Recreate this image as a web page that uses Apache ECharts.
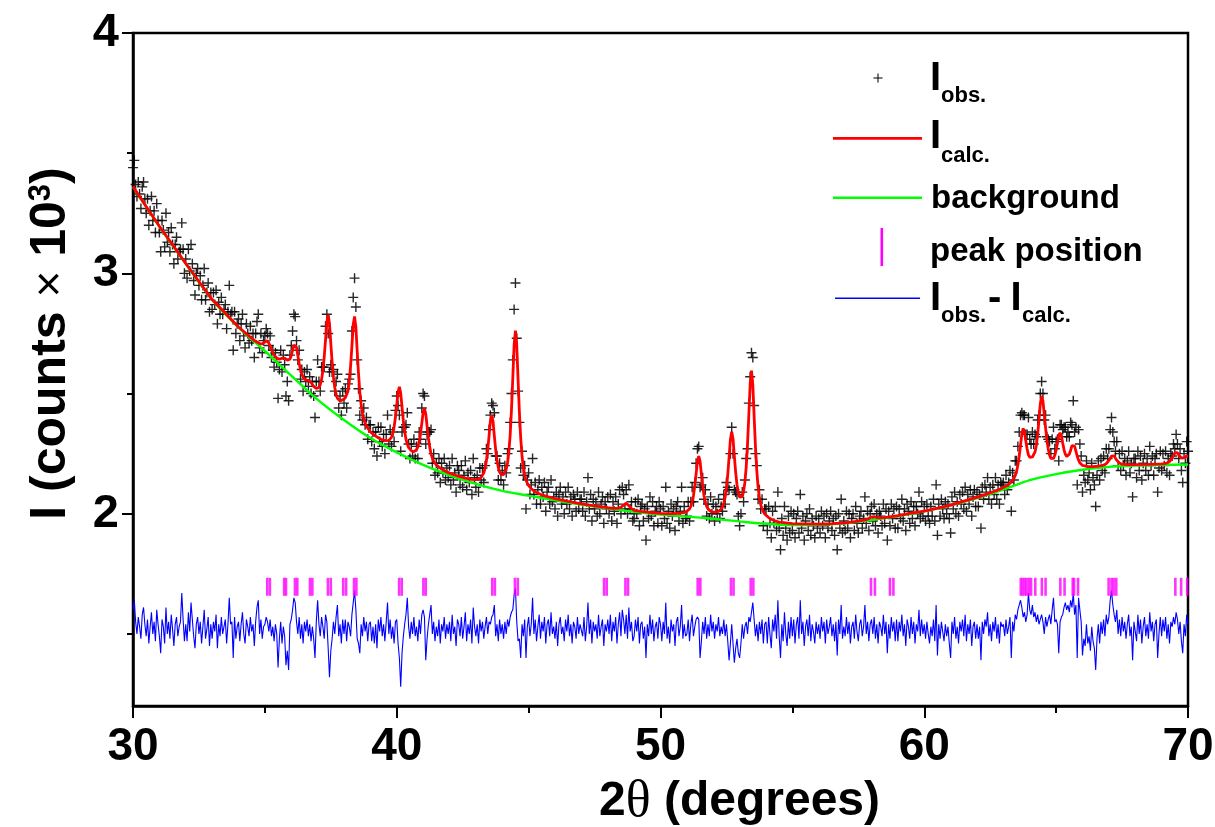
<!DOCTYPE html>
<html><head><meta charset="utf-8">
<script src="https://cdn.jsdelivr.net/npm/echarts@6/dist/echarts.min.js"></script>
<style>html,body{margin:0;padding:0;background:#fff}#c{width:1215px;height:827px}</style>
</head><body><div id="c"></div>
<script>
// ---------- data ----------
const twoThetaStart = 30;
const twoThetaStep = 0.05;

// observed intensity (counts x 10^3), one value per 0.05 deg from 30.00 to 70.00
const observedIntensity = [
3.44,3.47,3.37,3.32,3.38,3.33,3.27,3.36,3.38,3.31,3.25,3.31,3.20,3.26,3.32,3.22,3.26,3.17,3.29,3.22,
3.17,3.09,3.22,3.18,3.11,3.25,3.13,3.17,3.09,3.19,3.12,3.04,3.12,3.15,3.06,3.09,3.10,3.21,3.10,3.00,
3.06,2.98,3.10,3.01,3.12,3.04,2.97,2.91,3.00,3.02,2.95,2.99,2.89,2.95,3.02,2.89,2.92,2.96,2.84,2.92,
2.85,2.92,2.87,2.93,2.79,2.88,2.83,2.90,2.83,2.85,2.87,2.77,2.84,2.95,2.83,2.84,2.68,2.84,2.75,2.79,
2.81,2.72,2.79,2.83,2.74,2.69,2.79,2.75,2.71,2.78,2.72,2.75,2.65,2.75,2.80,2.83,2.69,2.75,2.67,2.72,
2.74,2.77,2.75,2.70,2.74,2.65,2.68,2.61,2.67,2.63,2.48,2.60,2.68,2.59,2.66,2.62,2.49,2.55,2.47,2.66,
2.70,2.76,2.83,2.82,2.72,2.64,2.68,2.56,2.60,2.51,2.59,2.55,2.60,2.53,2.57,2.50,2.55,2.49,2.40,2.55,
2.64,2.55,2.51,2.61,2.61,2.61,2.78,2.83,2.75,2.59,2.62,2.59,2.60,2.51,2.55,2.58,2.44,2.49,2.41,2.51,
2.46,2.52,2.44,2.54,2.56,2.58,2.76,2.90,2.98,2.86,2.64,2.52,2.41,2.47,2.39,2.44,2.37,2.40,2.31,2.37,
2.37,2.30,2.34,2.27,2.34,2.24,2.36,2.30,2.36,2.28,2.33,2.25,2.33,2.41,2.29,2.35,2.28,2.34,2.30,2.43,
2.49,2.45,2.41,2.26,2.34,2.36,2.36,2.37,2.42,2.29,2.23,2.29,2.24,2.31,2.23,2.28,2.23,2.34,2.31,2.44,
2.50,2.49,2.29,2.33,2.34,2.34,2.35,2.21,2.25,2.16,2.21,2.17,2.23,2.13,2.21,2.17,2.23,2.14,2.19,2.15,
2.20,2.12,2.23,2.14,2.17,2.09,2.20,2.18,2.12,2.20,2.11,2.16,2.22,2.10,2.17,2.13,2.18,2.08,2.23,2.15,
2.11,2.16,2.09,2.19,2.14,2.19,2.13,2.20,2.27,2.25,2.35,2.41,2.46,2.45,2.42,2.24,2.24,2.14,2.21,2.14,
2.18,2.12,2.20,2.17,2.25,2.27,2.38,2.50,2.64,2.85,2.96,2.73,2.51,2.38,2.19,2.26,2.16,2.20,2.02,2.14,
2.17,2.08,2.12,2.23,2.08,2.13,2.04,2.10,2.14,2.04,2.11,2.07,2.13,2.01,2.09,2.11,2.04,2.14,2.05,2.07,
2.02,2.09,1.99,2.08,2.11,2.04,2.07,2.00,2.09,2.04,2.11,2.02,2.07,1.99,2.08,2.06,2.01,2.09,2.02,2.06,
2.06,2.01,2.09,1.99,2.05,2.15,2.02,2.08,1.97,2.06,2.02,2.05,1.99,2.09,2.00,2.04,2.07,1.96,2.05,2.02,
2.07,2.00,2.08,1.97,2.05,2.01,2.07,1.96,2.04,2.10,2.00,2.11,2.08,2.02,2.10,2.00,2.12,2.02,2.05,1.97,
1.98,2.05,2.00,2.06,1.95,2.03,2.04,1.97,2.02,1.89,2.03,1.98,2.07,1.99,2.05,1.95,2.01,2.03,1.96,2.05,
2.02,1.95,2.03,1.98,2.11,1.96,2.01,1.94,2.04,1.99,2.02,1.93,2.03,2.05,1.97,2.01,2.11,1.96,2.03,1.98,
1.99,2.05,1.97,2.05,2.11,2.05,2.13,2.21,2.27,2.28,2.11,2.12,2.15,2.06,2.10,1.99,2.04,1.98,2.07,2.00,
2.04,1.97,2.03,2.00,2.06,1.98,2.03,2.01,2.08,2.04,2.13,2.11,2.10,2.25,2.36,2.25,2.10,2.09,2.08,1.99,
1.95,2.00,2.09,2.05,2.14,2.23,2.27,2.46,2.57,2.67,2.65,2.45,2.25,2.20,2.06,2.10,2.02,2.06,1.95,2.02,
2.02,1.93,2.03,1.96,1.90,2.01,1.96,2.03,1.93,2.09,1.94,1.85,1.98,1.91,2.03,1.94,1.89,1.99,1.92,2.01,
1.93,2.00,1.90,1.98,2.01,1.92,2.08,1.94,1.99,1.89,1.97,2.00,1.93,2.02,1.91,1.98,1.95,1.90,1.99,1.94,
1.98,1.92,2.01,1.95,1.99,1.90,2.00,1.94,1.97,2.01,1.93,1.98,1.91,1.99,1.85,2.00,1.94,2.06,1.92,1.97,
1.93,2.01,1.94,2.00,1.90,1.98,2.00,1.93,2.03,1.96,1.92,1.99,2.01,1.94,1.98,2.07,1.96,2.01,1.93,2.00,
2.03,1.97,2.04,1.95,2.00,1.92,2.01,1.99,1.95,2.04,1.96,2.02,1.89,2.01,1.95,2.04,1.98,2.02,1.94,2.03,
1.94,2.02,1.98,2.06,1.97,2.02,1.93,2.04,2.01,1.96,2.05,1.98,2.03,1.95,2.03,2.00,2.09,1.98,2.05,1.99,
2.03,1.97,2.04,1.99,1.96,2.03,1.99,2.06,1.97,2.12,1.91,2.04,1.99,2.06,2.02,1.98,2.05,2.00,2.04,1.98,
1.92,2.07,2.02,2.09,2.00,2.05,1.99,2.08,2.04,2.09,2.02,2.11,2.01,2.08,2.04,2.10,1.99,2.07,2.10,2.03,
2.09,2.03,2.08,1.94,2.11,2.06,2.12,2.09,2.15,2.06,2.11,2.04,2.12,2.08,2.15,2.06,2.12,2.04,2.13,2.12,
2.13,2.08,2.16,2.10,2.13,2.18,2.01,2.17,2.14,2.22,2.22,2.28,2.34,2.41,2.42,2.41,2.41,2.33,2.33,2.40,
2.31,2.29,2.34,2.29,2.33,2.32,2.39,2.41,2.50,2.55,2.50,2.39,2.41,2.32,2.31,2.30,2.25,2.31,2.36,2.27,
2.30,2.31,2.22,2.37,2.37,2.35,2.36,2.36,2.32,2.34,2.32,2.38,2.37,2.47,2.34,2.36,2.12,2.35,2.29,2.24,
2.09,2.16,2.13,2.22,2.14,2.17,2.10,2.21,2.15,2.12,2.03,2.16,2.22,2.14,2.23,2.18,2.24,2.17,2.27,2.23,
2.27,2.35,2.40,2.34,2.30,2.26,2.30,2.20,2.25,2.18,2.26,2.20,2.23,2.16,2.22,2.26,2.17,2.21,2.07,2.23,
2.23,2.15,2.26,2.18,2.24,2.14,2.21,2.25,2.18,2.23,2.16,2.28,2.20,2.24,2.16,2.23,2.25,2.09,2.19,2.26,
2.18,2.25,2.20,2.26,2.17,2.23,2.16,2.25,2.24,2.29,2.27,2.33,2.29,2.23,2.27,2.18,2.13,2.25,2.21,2.30,
2.26
];

// difference curve Iobs - Icalc (drawn with its offset), same 0.05 deg grid
const differenceCurve = [
1.60,1.64,1.55,1.50,1.57,1.53,1.48,1.58,1.61,1.54,1.49,1.56,1.46,1.53,1.59,1.50,1.55,1.47,1.60,1.54,
1.49,1.42,1.56,1.53,1.46,1.61,1.50,1.55,1.48,1.58,1.52,1.45,1.54,1.57,1.49,1.53,1.55,1.67,1.56,1.47,
1.54,1.47,1.59,1.51,1.63,1.56,1.49,1.44,1.54,1.57,1.50,1.55,1.46,1.53,1.60,1.48,1.52,1.57,1.45,1.54,
1.48,1.55,1.51,1.58,1.44,1.54,1.49,1.57,1.50,1.53,1.56,1.46,1.54,1.65,1.54,1.55,1.40,1.57,1.48,1.53,
1.55,1.47,1.54,1.59,1.50,1.46,1.56,1.53,1.49,1.57,1.51,1.54,1.45,1.55,1.61,1.64,1.50,1.56,1.48,1.53,
1.54,1.57,1.55,1.51,1.56,1.49,1.53,1.47,1.54,1.50,1.36,1.48,1.55,1.46,1.53,1.49,1.37,1.43,1.35,1.54,
1.56,1.60,1.65,1.63,1.55,1.50,1.57,1.48,1.54,1.46,1.55,1.51,1.56,1.49,1.54,1.47,1.53,1.48,1.40,1.55,
1.64,1.54,1.49,1.57,1.53,1.48,1.58,1.55,1.44,1.32,1.43,1.48,1.55,1.50,1.57,1.62,1.49,1.54,1.46,1.56,
1.50,1.56,1.47,1.55,1.53,1.49,1.58,1.63,1.68,1.60,1.48,1.46,1.42,1.54,1.49,1.57,1.51,1.55,1.47,1.54,
1.55,1.47,1.53,1.46,1.54,1.44,1.56,1.51,1.57,1.49,1.54,1.47,1.55,1.63,1.50,1.56,1.48,1.53,1.46,1.55,
1.56,1.46,1.40,1.28,1.42,1.49,1.54,1.58,1.65,1.53,1.48,1.55,1.50,1.57,1.49,1.53,1.47,1.56,1.50,1.58,
1.60,1.57,1.39,1.48,1.54,1.58,1.62,1.50,1.55,1.47,1.53,1.49,1.56,1.46,1.54,1.51,1.57,1.48,1.54,1.50,
1.55,1.47,1.58,1.50,1.53,1.45,1.56,1.54,1.49,1.57,1.48,1.53,1.59,1.47,1.54,1.50,1.56,1.46,1.61,1.53,
1.49,1.54,1.46,1.56,1.51,1.55,1.48,1.53,1.57,1.50,1.55,1.54,1.57,1.58,1.62,1.49,1.54,1.47,1.56,1.50,
1.54,1.48,1.55,1.50,1.56,1.53,1.57,1.59,1.60,1.66,1.69,1.55,1.47,1.48,1.40,1.54,1.49,1.56,1.40,1.53,
1.57,1.49,1.54,1.65,1.50,1.56,1.47,1.53,1.58,1.48,1.55,1.51,1.57,1.46,1.54,1.56,1.49,1.59,1.50,1.53,
1.48,1.55,1.45,1.54,1.57,1.50,1.53,1.47,1.56,1.51,1.58,1.49,1.54,1.46,1.55,1.53,1.48,1.57,1.50,1.54,
1.54,1.49,1.57,1.47,1.53,1.63,1.50,1.56,1.46,1.55,1.51,1.54,1.48,1.58,1.49,1.53,1.56,1.45,1.54,1.51,
1.56,1.50,1.58,1.47,1.55,1.51,1.57,1.46,1.54,1.59,1.49,1.60,1.56,1.50,1.58,1.48,1.61,1.51,1.55,1.47,
1.49,1.56,1.51,1.57,1.46,1.54,1.55,1.48,1.53,1.40,1.54,1.49,1.58,1.50,1.56,1.47,1.53,1.55,1.48,1.57,
1.54,1.47,1.55,1.50,1.63,1.48,1.53,1.46,1.56,1.51,1.54,1.45,1.55,1.57,1.49,1.53,1.62,1.48,1.54,1.49,
1.50,1.56,1.47,1.54,1.58,1.49,1.53,1.56,1.57,1.56,1.40,1.47,1.55,1.50,1.57,1.48,1.54,1.49,1.58,1.51,
1.55,1.48,1.54,1.51,1.57,1.49,1.53,1.50,1.56,1.49,1.54,1.47,1.39,1.46,1.54,1.46,1.38,1.44,1.48,1.42,
1.40,1.46,1.54,1.48,1.53,1.55,1.50,1.57,1.55,1.59,1.63,1.56,1.49,1.54,1.47,1.55,1.50,1.56,1.46,1.54,
1.55,1.46,1.57,1.50,1.44,1.56,1.51,1.58,1.48,1.64,1.49,1.40,1.54,1.47,1.59,1.50,1.45,1.55,1.48,1.57,
1.49,1.56,1.46,1.54,1.57,1.48,1.64,1.50,1.55,1.45,1.53,1.56,1.49,1.58,1.47,1.54,1.51,1.46,1.55,1.50,
1.54,1.48,1.57,1.51,1.55,1.46,1.56,1.50,1.53,1.57,1.49,1.54,1.47,1.55,1.41,1.56,1.50,1.62,1.48,1.53,
1.49,1.57,1.50,1.55,1.46,1.53,1.55,1.48,1.58,1.51,1.47,1.54,1.56,1.49,1.53,1.62,1.50,1.55,1.47,1.54,
1.56,1.50,1.57,1.48,1.54,1.46,1.55,1.53,1.49,1.58,1.50,1.55,1.42,1.54,1.48,1.57,1.51,1.55,1.47,1.56,
1.47,1.55,1.51,1.58,1.49,1.54,1.45,1.56,1.53,1.48,1.57,1.50,1.55,1.46,1.54,1.51,1.60,1.49,1.56,1.50,
1.54,1.48,1.55,1.50,1.46,1.53,1.49,1.56,1.47,1.62,1.41,1.54,1.48,1.55,1.51,1.47,1.54,1.49,1.53,1.46,
1.40,1.55,1.50,1.57,1.48,1.53,1.46,1.55,1.51,1.56,1.49,1.58,1.47,1.54,1.50,1.56,1.45,1.53,1.55,1.48,
1.54,1.48,1.53,1.39,1.55,1.50,1.56,1.53,1.59,1.49,1.54,1.47,1.55,1.51,1.57,1.48,1.54,1.46,1.55,1.53,
1.54,1.49,1.56,1.50,1.53,1.57,1.40,1.55,1.51,1.58,1.56,1.60,1.62,1.64,1.61,1.57,1.59,1.55,1.58,1.67,
1.60,1.58,1.62,1.57,1.59,1.55,1.58,1.54,1.56,1.58,1.55,1.50,1.57,1.53,1.56,1.58,1.54,1.60,1.65,1.55,
1.56,1.54,1.42,1.55,1.57,1.58,1.61,1.63,1.60,1.62,1.59,1.64,1.61,1.67,1.58,1.62,1.40,1.65,1.60,1.55,
1.41,1.48,1.45,1.54,1.46,1.49,1.43,1.53,1.47,1.44,1.35,1.48,1.54,1.46,1.55,1.50,1.56,1.49,1.58,1.54,
1.57,1.64,1.68,1.62,1.58,1.55,1.60,1.50,1.56,1.49,1.57,1.51,1.55,1.48,1.54,1.58,1.49,1.53,1.39,1.55,
1.55,1.47,1.58,1.50,1.56,1.46,1.53,1.57,1.49,1.54,1.48,1.59,1.51,1.55,1.47,1.54,1.56,1.40,1.50,1.57,
1.49,1.56,1.51,1.57,1.48,1.54,1.46,1.55,1.53,1.57,1.54,1.59,1.56,1.50,1.55,1.47,1.42,1.54,1.49,1.58,
1.54
];

// calculated profile [2theta, intensity]
const calculatedPattern = [
[30.0,3.361],[30.5,3.278],[31.0,3.196],[31.5,3.119],[32.0,3.041],[32.5,2.966],[33.0,2.891],[33.5,2.834],[34.0,2.777],[34.5,2.730],
[34.55,2.726],[34.6,2.721],[34.65,2.718],[34.7,2.714],[34.75,2.710],[34.8,2.708],[34.85,2.706],[34.9,2.707],[34.95,2.710],
[35.0,2.715],[35.05,2.721],[35.1,2.720],[35.15,2.713],[35.2,2.698],[35.25,2.683],[35.3,2.670],[35.35,2.660],[35.4,2.654],[35.45,2.648],
[35.5,2.644],[35.55,2.643],[35.6,2.645],[35.65,2.647],[35.7,2.647],[35.75,2.647],[35.8,2.644],[35.85,2.639],[35.9,2.638],[35.95,2.643],
[36.0,2.658],[36.05,2.679],[36.1,2.702],[36.15,2.709],[36.2,2.692],[36.25,2.658],[36.3,2.626],[36.35,2.600],[36.4,2.581],[36.45,2.568],
[36.5,2.560],[36.55,2.556],[36.6,2.555],[36.65,2.555],[36.7,2.552],[36.75,2.546],[36.8,2.538],[36.85,2.530],[36.9,2.524],[36.95,2.521],
[37.0,2.520],[37.05,2.525],[37.1,2.537],[37.15,2.559],[37.2,2.596],[37.25,2.652],[37.3,2.723],[37.35,2.797],[37.4,2.828],[37.45,2.791],
[37.5,2.709],[37.55,2.630],[37.6,2.568],[37.65,2.525],[37.7,2.497],[37.75,2.480],[37.8,2.472],[37.85,2.469],[37.9,2.470],[37.95,2.474],
[38.0,2.478],[38.05,2.482],[38.1,2.490],[38.15,2.510],[38.2,2.550],[38.25,2.614],[38.3,2.697],[38.35,2.787],[38.4,2.821],[38.45,2.776],
[38.5,2.677],[38.55,2.583],[38.6,2.506],[38.65,2.453],[38.7,2.417],[38.75,2.394],[38.8,2.377],[38.85,2.365],[38.9,2.356],[38.95,2.348],
[39.0,2.341],[39.1,2.331],[39.2,2.323],[39.3,2.316],[39.4,2.310],[39.5,2.306],[39.6,2.304],[39.7,2.305],[39.75,2.309],[39.8,2.318],
[39.85,2.334],[39.9,2.361],[39.95,2.401],[40.0,2.452],[40.05,2.506],[40.1,2.528],[40.15,2.502],[40.2,2.443],[40.25,2.387],[40.3,2.341],
[40.35,2.310],[40.4,2.290],[40.45,2.276],[40.5,2.268],[40.55,2.262],[40.6,2.259],[40.65,2.258],[40.7,2.260],[40.75,2.266],[40.8,2.278],
[40.85,2.300],[40.9,2.333],[40.95,2.376],[41.0,2.421],[41.05,2.439],[41.1,2.415],[41.15,2.365],[41.2,2.316],[41.25,2.277],[41.3,2.249],
[41.35,2.231],[41.4,2.218],[41.45,2.210],[41.5,2.203],[41.6,2.194],[41.7,2.186],[41.8,2.180],[41.9,2.174],[42.0,2.169],[42.2,2.161],
[42.4,2.154],[42.6,2.148],[42.8,2.143],[43.0,2.142],[43.1,2.145],[43.15,2.147],[43.2,2.151],[43.25,2.158],[43.3,2.170],[43.35,2.190],
[43.4,2.221],[43.45,2.267],[43.5,2.324],[43.55,2.385],[43.6,2.411],[43.65,2.385],[43.7,2.324],[43.75,2.267],[43.8,2.222],[43.85,2.192],
[43.9,2.173],[43.95,2.164],[44.0,2.161],[44.05,2.163],[44.1,2.170],[44.15,2.185],[44.2,2.211],[44.25,2.256],[44.3,2.327],[44.35,2.432],
[44.4,2.564],[44.45,2.703],[44.5,2.762],[44.55,2.700],[44.6,2.558],[44.65,2.422],[44.7,2.314],[44.75,2.239],[44.8,2.190],[44.85,2.159],
[44.9,2.140],[44.95,2.127],[45.0,2.117],[45.1,2.104],[45.2,2.095],[45.3,2.088],[45.4,2.083],[45.5,2.078],[45.75,2.070],[46.0,2.063],
[46.5,2.051],[47.0,2.041],[47.5,2.033],[48.0,2.025],[48.2,2.022],[48.4,2.023],[48.5,2.027],[48.55,2.031],[48.6,2.036],[48.65,2.042],
[48.7,2.044],[48.75,2.040],[48.8,2.033],[48.85,2.027],[48.9,2.021],[49.0,2.014],[49.25,2.010],[49.5,2.007],[49.75,2.004],[50.0,2.001],
[50.25,2.000],[50.5,2.000],[50.75,2.002],[50.9,2.005],[51.0,2.010],[51.05,2.014],[51.1,2.020],[51.15,2.031],[51.2,2.049],[51.25,2.076],
[51.3,2.116],[51.35,2.166],[51.4,2.218],[51.45,2.240],[51.5,2.218],[51.55,2.165],[51.6,2.115],[51.65,2.075],[51.7,2.048],[51.75,2.031],
[51.8,2.020],[51.85,2.014],[51.9,2.010],[52.0,2.007],[52.1,2.007],[52.2,2.010],[52.25,2.014],[52.3,2.019],[52.35,2.029],[52.4,2.044],
[52.45,2.068],[52.5,2.107],[52.55,2.163],[52.6,2.234],[52.65,2.308],[52.7,2.341],[52.75,2.311],[52.8,2.240],[52.85,2.172],[52.9,2.121],
[52.95,2.087],[53.0,2.069],[53.05,2.064],[53.1,2.071],[53.15,2.092],[53.2,2.131],[53.25,2.195],[53.3,2.291],[53.35,2.413],[53.4,2.540],
[53.45,2.595],[53.5,2.537],[53.55,2.405],[53.6,2.280],[53.65,2.180],[53.7,2.111],[53.75,2.066],[53.8,2.037],[53.85,2.020],[53.9,2.008],
[53.95,1.999],[54.0,1.993],[54.1,1.984],[54.2,1.977],[54.3,1.972],[54.4,1.968],[54.5,1.965],[54.75,1.962],[55.0,1.959],[55.5,1.958],
[56.0,1.957],[56.5,1.959],[57.0,1.962],[57.5,1.969],[57.8,1.975],[57.9,1.980],[58.0,1.986],[58.05,1.988],[58.1,1.988],[58.2,1.984],
[58.3,1.983],[58.5,1.984],[59.0,1.992],[59.5,2.002],[60.0,2.011],[60.5,2.023],[61.0,2.036],[61.5,2.052],[62.0,2.068],[62.5,2.087],
[62.75,2.097],[62.9,2.104],[63.0,2.109],[63.1,2.115],[63.2,2.122],[63.25,2.127],[63.3,2.132],[63.35,2.138],[63.4,2.147],[63.45,2.159],
[63.5,2.176],[63.55,2.203],[63.6,2.239],[63.65,2.285],[63.7,2.332],[63.75,2.355],[63.8,2.341],[63.85,2.303],[63.9,2.269],[63.95,2.245],
[64.0,2.234],[64.05,2.233],[64.1,2.236],[64.15,2.244],[64.2,2.257],[64.25,2.285],[64.3,2.330],[64.35,2.390],[64.4,2.457],[64.45,2.490],
[64.5,2.469],[64.55,2.414],[64.6,2.358],[64.65,2.308],[64.7,2.269],[64.75,2.244],[64.8,2.230],[64.85,2.226],[64.9,2.230],[64.95,2.243],
[65.0,2.264],[65.05,2.293],[65.1,2.324],[65.15,2.337],[65.2,2.324],[65.25,2.294],[65.3,2.266],[65.35,2.247],[65.4,2.238],[65.45,2.237],
[65.5,2.248],[65.55,2.264],[65.6,2.283],[65.65,2.291],[65.7,2.281],[65.75,2.260],[65.8,2.239],[65.85,2.223],[65.9,2.212],[65.95,2.205],
[66.0,2.201],[66.2,2.196],[66.4,2.196],[66.6,2.198],[66.8,2.202],[66.85,2.204],[66.9,2.208],[66.95,2.213],[67.0,2.221],[67.05,2.230],
[67.1,2.240],[67.15,2.244],[67.2,2.241],[67.25,2.231],[67.3,2.222],[67.35,2.215],[67.4,2.211],[67.5,2.206],[67.7,2.204],[68.0,2.204],
[68.5,2.205],[69.0,2.207],[69.1,2.208],[69.2,2.211],[69.25,2.213],[69.3,2.217],[69.35,2.222],[69.4,2.232],[69.45,2.242],[69.5,2.253],
[69.55,2.258],[69.6,2.254],[69.65,2.245],[69.7,2.237],[69.75,2.232],[69.8,2.231],[69.85,2.233],[69.9,2.237],[69.95,2.240],[70.0,2.239]
];

// refined background
const backgroundTwoTheta = [30,31,32,33,34,35,36,37,38,39,40,41,42,43,44,45,46,47,48,49,50,51,52,53,54,55,56,57,58,59,60,61,62,63,64,65,66,67,68,69,70];
const backgroundIntensity = [3.360,3.195,3.040,2.890,2.775,2.677,2.575,2.475,2.390,2.315,2.255,2.203,2.160,2.124,2.095,2.075,2.056,2.038,2.022,2.008,1.997,1.988,1.979,1.968,1.958,1.953,1.954,1.960,1.974,1.990,2.010,2.035,2.065,2.100,2.140,2.165,2.183,2.195,2.200,2.203,2.205];

// Bragg peak positions (2theta)
const peakPositions = [35.09,35.19,35.73,35.80,36.14,36.23,36.71,36.80,37.39,37.50,37.97,38.08,38.38,38.47,40.09,40.19,41.01,41.10,43.62,43.72,44.48,44.59,47.86,47.96,48.67,48.77,51.41,51.51,52.67,52.77,53.42,53.52,57.98,58.13,58.70,58.83,63.66,63.73,63.81,63.88,63.97,64.05,64.21,64.46,64.60,65.16,65.32,65.63,65.68,65.83,66.99,67.10,67.18,67.28,69.52,69.74,69.97];
const peakMarkerLevel = 1.696;

const xTickValues = [30, 40, 50, 60, 70];
const yMajorTicks = [2, 3, 4];
const yMinorTicks = [1.5, 2.5, 3.5];

// ---------- chart ----------
const FONT = "'Liberation Sans', Arial, sans-serif";
const obsData = observedIntensity.map((v, i) => [+(twoThetaStart + i * twoThetaStep).toFixed(2), v]);
const diffData = differenceCurve.map((v, i) => [+(twoThetaStart + i * twoThetaStep).toFixed(2), v]);
const bgData = backgroundTwoTheta.map((x, i) => [x, backgroundIntensity[i]]);
const peakData = peakPositions.map(x => [x, peakMarkerLevel]);

const chart = echarts.init(document.getElementById('c'), null, {renderer: 'canvas'});

const legendText = (text, x, y, size) => ({
  type: 'text', silent: true, z: 100,
  style: {text, x, y, fill: '#000', font: 'bold ' + size + 'px ' + FONT,
          textAlign: 'left', textVerticalAlign: 'middle', align: 'left', verticalAlign: 'middle'}
});
const legendRect = (x, y, w, h, fill) => ({
  type: 'rect', silent: true, z: 100, shape: {x, y, width: w, height: h}, style: {fill}
});

chart.setOption({
  animation: false,
  backgroundColor: '#fff',
  grid: {left: 133, right: 27, top: 33, bottom: 121, containLabel: false, outerBoundsMode: 'none',
         show: true, borderColor: '#000', borderWidth: 2.5, backgroundColor: 'transparent'},
  xAxis: {
    type: 'value', min: 30, max: 70, interval: 10,
    axisLine: {show: true, lineStyle: {color: '#000', width: 2.5}},
    axisTick: {show: true, inside: false, length: 12, lineStyle: {color: '#000', width: 2}},
    minorTick: {show: true, splitNumber: 2, length: 7, lineStyle: {color: '#000', width: 2}},
    splitLine: {show: false}, minorSplitLine: {show: false},
    axisLabel: {margin: 18, fontSize: 46, fontWeight: 'bold', fontFamily: FONT, color: '#000',
                customValues: xTickValues},
    name: '{t|2}{th|θ}{t| (degrees)}',
    nameLocation: 'middle', nameGap: 70,
    nameTextStyle: {padding: [0, 0, 0, 158], rich: {
      t: {fontSize: 48, fontWeight: 'bold', fontFamily: FONT, color: '#000'},
      th: {fontSize: 52, fontWeight: 'normal', fontFamily: "'Liberation Serif', 'DejaVu Serif', serif", color: '#000'}
    }}
  },
  yAxis: [{
    type: 'value', min: 1.2, max: 4,
    axisLine: {show: true, lineStyle: {color: '#000', width: 2.5}},
    axisTick: {show: true, inside: false, length: 11, customValues: yMajorTicks, lineStyle: {color: '#000', width: 2}},
    splitLine: {show: false},
    axisLabel: {margin: 14, fontSize: 47, fontWeight: 'bold', fontFamily: FONT, color: '#000', customValues: yMajorTicks},
    name: '{t|I (counts }{x|×}{t| 10}{s|3}{t|)}',
    nameLocation: 'middle', nameGap: 57,
    nameTextStyle: {padding: [0, 0, 0, 52], rich: {
      t: {fontSize: 50, fontWeight: 'bold', fontFamily: FONT, color: '#000'},
      x: {fontSize: 46, fontWeight: 'normal', fontFamily: FONT, color: '#000'},
      s: {fontSize: 31, fontWeight: 'bold', fontFamily: FONT, color: '#000', verticalAlign: 'top'}
    }}
  }, {
    type: 'value', min: 1.2, max: 4, position: 'left', offset: 0,
    axisLine: {show: false},
    axisTick: {show: true, inside: false, length: 6, customValues: yMinorTicks, lineStyle: {color: '#000', width: 2}},
    axisLabel: {show: false}, splitLine: {show: false}
  }],
  series: [
    {
      name: 'Iobs.', type: 'scatter', data: obsData, yAxisIndex: 0,
      symbol: 'path://M4.3,0H5.7V10H4.3ZM0,4.3H10V5.7H0Z', symbolSize: 10,
      itemStyle: {color: '#000', opacity: 0.85}, silent: true, z: 2
    },
    {
      name: 'background', type: 'line', data: bgData, yAxisIndex: 0, smooth: 0.3,
      showSymbol: false, symbol: 'none', lineStyle: {color: '#00ff00', width: 2.4}, silent: true, z: 3
    },
    {
      name: 'Icalc.', type: 'line', data: calculatedPattern, yAxisIndex: 0,
      showSymbol: false, symbol: 'none', lineStyle: {color: '#ff0000', width: 2.8}, silent: true, z: 4
    },
    {
      name: 'Iobs.-Icalc.', type: 'line', data: diffData, yAxisIndex: 0,
      showSymbol: false, symbol: 'none', lineStyle: {color: '#0000ff', width: 1.1}, silent: true, z: 3
    },
    {
      name: 'peak position', type: 'scatter', data: peakData, yAxisIndex: 0,
      symbol: 'rect', symbolSize: [2.6, 18], itemStyle: {color: '#ff00ff'}, silent: true, z: 5
    }
  ],
  graphic: [
    legendRect(873.5, 77.4, 9, 1.2, '#222'),
    legendRect(877.4, 73.5, 1.2, 9, '#222'),
    legendText('I', 930, 78.8, 40),
    legendText('obs.', 941, 96.2, 22),
    legendRect(833, 137, 89, 2.8, '#ff0000'),
    legendText('I', 930, 136.8, 40),
    legendText('calc.', 941, 156, 22),
    legendRect(833, 196.5, 89, 2.6, '#00ff00'),
    legendText('background', 931, 199.1, 33),
    legendRect(880.5, 228, 2.6, 38, '#ff00ff'),
    legendText('peak position', 930, 252.4, 33),
    legendRect(835, 297.6, 85, 1.3, '#0000ff'),
    legendText('I', 930, 298.5, 40),
    legendText('obs.', 941, 316, 22),
    legendText('-', 988, 298.5, 40),
    legendText('I', 1010.5, 298.5, 40),
    legendText('calc.', 1022, 316, 22)
  ]
});
</script>
</body></html>
